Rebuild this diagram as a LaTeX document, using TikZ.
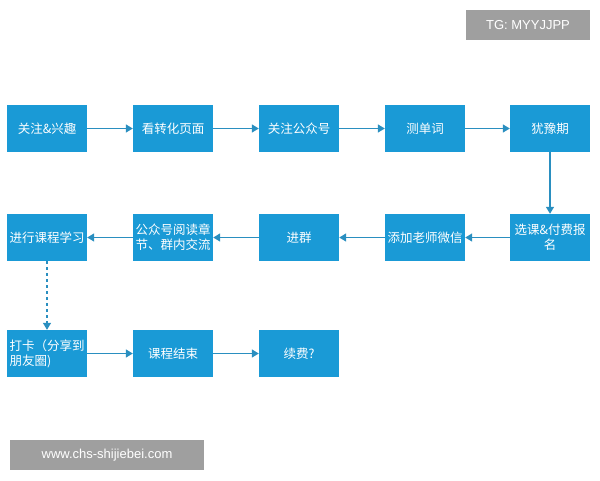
\documentclass[tikz,border=0pt]{standalone}
\usepackage{fontspec}
\newfontfamily\cjk{Noto Sans CJK SC}
\setmainfont{Liberation Sans}
\usetikzlibrary{arrows.meta}
\definecolor{bx}{HTML}{1A9AD6}
\definecolor{ar}{HTML}{2A8FC0}
\tikzset{x=1pt,y=-1pt,
 box/.style={fill=bx,minimum width=80pt,minimum height=47pt,inner sep=1pt,text=white,font=\cjk\fontsize{12.5}{15}\selectfont,align=center},
 arr/.style={ar,line width=1.3pt,-{Triangle[length=7pt,width=8pt]}},
 wm/.style={fill=gray!75,text=white,font=\fontsize{13}{15}\selectfont,inner sep=0pt}}
\begin{document}
\begin{tikzpicture}
\useasboundingbox (0,0) rectangle (600,480);
\node[wm,minimum width=124pt,minimum height=30pt] (tg) at (528,25) {TG: MYYJJPP};
\node[wm,minimum width=194pt,minimum height=30pt] (www) at (107,455) {www.chs-shijiebei.com};
\node[box] (a1) at (47,128.5) {关注\&兴趣};
\node[box] (a2) at (173,128.5) {看转化页面};
\node[box] (a3) at (299,128.5) {关注公众号};
\node[box] (a4) at (425,128.5) {测单词};
\node[box] (a5) at (550,128.5) {犹豫期};
\node[box] (b5) at (550,237.5) {选课\&付费报\\名};
\node[box] (b4) at (425,237.5) {添加老师微信};
\node[box] (b3) at (299,237.5) {进群};
\node[box] (b2) at (173,237.5) {公众号阅读章\\节、群内交流};
\node[box] (b1) at (47,237.5) {进行课程学习};
\node[box,align=left] (c1) at (47,353.5) {打卡（分享到\\朋友圈)};
\node[box] (c2) at (173,353.5) {课程结束};
\node[box] (c3) at (299,353.5) {续费?};
\draw[arr] (a1) -- (a2);
\draw[arr] (a2) -- (a3);
\draw[arr] (a3) -- (a4);
\draw[arr] (a4) -- (a5);
\draw[arr] (a5) -- (b5);
\draw[arr] (b5) -- (b4);
\draw[arr] (b4) -- (b3);
\draw[arr] (b3) -- (b2);
\draw[arr] (b2) -- (b1);
\draw[arr,dashed] (b1) -- (c1);
\draw[arr] (c1) -- (c2);
\draw[arr] (c2) -- (c3);
\end{tikzpicture}
\end{document}
